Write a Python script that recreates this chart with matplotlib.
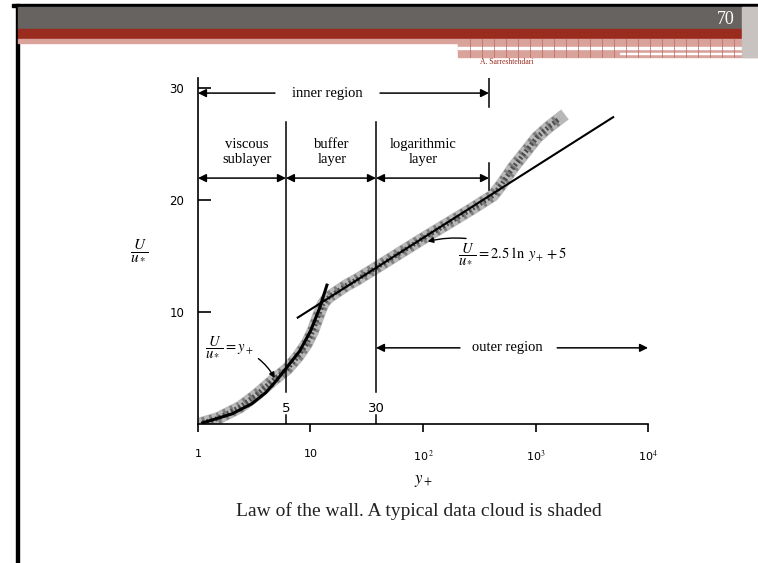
import numpy as np
import matplotlib
matplotlib.use("Agg")
import matplotlib.pyplot as plt
from matplotlib.patches import Rectangle

plt.rcParams['font.family'] = ['Liberation Serif', 'DejaVu Serif']
plt.rcParams['mathtext.fontset'] = 'stix'

# data
cloud_yp = [1.1, 1.5, 2.36, 3.3, 4.64, 6.18, 7.7, 9.29, 10.5, 11.4, 12.2, 12.9, 13.8, 14.9, 16.5,
            18.3, 21, 25.9, 30, 39.0, 94, 261, 418, 500, 632, 800, 1030, 1300, 1650]
cloud_up = [0.1, 0.5, 1.5, 2.6, 3.9, 4.9, 6.0, 7.2, 8.3, 9.3, 10.1, 10.7, 11.1, 11.4, 11.7,
            12.0, 12.4, 12.9, 13.3, 14.0, 16.4, 19.1, 20.4, 21.4, 22.9, 24.2, 25.6, 26.5, 27.3]

visc_yp = [1.1, 2.0, 3.0, 4.0, 5.0, 6.2, 8.0, 10.0, 12.0, 14.0]
visc_up = [0.1, 0.9, 1.8, 2.8, 3.9, 5.1, 6.5, 8.3, 10.3, 12.4]

log_yp = [7.7, 4900]
log_up = [9.5, 27.4]

edges = [1, 6.05, 38.2, 386]          # viscous | buffer | log | end of inner
edge_labels = ['5', '30']
regions = ['viscous\nsublayer', 'buffer\nlayer', 'logarithmic\nlayer']
region_x = [2.73, 15.5, 100]

xticks = [1, 10, 100, 1000, 10000]
xticklabels = ['1', '10', '10$^{\\,2}$', '10$^3$', '10$^4$']
yticks = [10, 20, 30]

fig = plt.figure(figsize=(7.58, 5.63), dpi=100)

# slide decoration
bg = fig.add_axes([0, 0, 1, 1])
bg.set_xlim(0, 758)
bg.set_ylim(563, 0)
bg.axis('off')
bg.add_patch(Rectangle((12, 4), 746, 3, color='black'))
bg.add_patch(Rectangle((16, 4), 2.5, 559, color='black'))
bg.add_patch(Rectangle((18, 7), 740, 22, color='#676361'))
bg.add_patch(Rectangle((18, 29), 740, 9.5, color='#9a2b1f'))
bg.add_patch(Rectangle((18, 38.5), 440, 4.5, color='#d9a29b'))
bg.add_patch(Rectangle((458, 38.5), 300, 18.5, color='#d9a29b'))
bg.add_patch(Rectangle((458, 46.5), 285, 2.5, color='white'))
bg.add_patch(Rectangle((620, 52.5), 125, 1.5, color='white'))
for xv in np.arange(470, 745, 12):
    bg.plot([xv, xv], [38.5, 57], color='#b9665c', lw=0.5)
bg.add_patch(Rectangle((742, 7), 16, 50, color='#c8c3c0'))
bg.text(735, 20, '70', color='white', fontsize=13, ha='right', va='center')
bg.text(507, 62, 'A. Sarreshtehdari', color='#9a2b1f', fontsize=5.5, ha='center', va='center')
bg.text(419, 511, 'Law of the wall. A typical data cloud is shaded', fontsize=14, ha='center', va='center',
        color='#222222')

ax = fig.add_axes([0.2612, 0.2469, 0.5937, 0.6146])
ax.set_xscale('log')
ax.set_xlim(1, 10000)
ax.set_ylim(0, 30.9)
for s in ['top', 'right']:
    ax.spines[s].set_visible(False)
ax.spines['left'].set_linewidth(1.2)
ax.spines['bottom'].set_linewidth(1.2)

# data cloud (stippled grey band)
ax.plot(cloud_yp, cloud_up, color='#b8b8b8', lw=9, solid_joinstyle='round', zorder=2)
ax.plot(cloud_yp, cloud_up, color='#7e7e7e', lw=8, ls=(0, (0.25, 0.45)), zorder=2)
ax.plot(cloud_yp, cloud_up, color='#4a4a4a', lw=3.5, ls=(0, (0.4, 0.5)), zorder=2)
# laws
ax.plot(visc_yp, visc_up, color='black', lw=2.2, zorder=3)
ax.plot(log_yp, log_up, color='black', lw=1.5, zorder=3)

ax.set_xticks(xticks)
ax.set_xticklabels(xticklabels, family='DejaVu Sans', fontsize=8)
ax.xaxis.set_minor_locator(matplotlib.ticker.NullLocator())
ax.tick_params(axis='x', direction='out', length=6, width=1.2, pad=12)
ax.set_yticks(yticks)
ax.set_yticklabels([str(v) for v in yticks], family='DejaVu Sans', fontsize=8.5)
ax.tick_params(axis='y', direction='in', length=9, width=1.2, pad=10)

# region boundaries
for e in edges[1:3]:
    ax.plot([e, e], [2.86, 27.0], color='black', lw=1.1)
    ax.plot([e, e], [0, 0.8], color='black', lw=1.1)
for e, lab in zip(edges[1:3], edge_labels):
    ax.text(e, 1.4, lab, ha='center', va='center', fontsize=9.5, family='DejaVu Sans')
ax.plot([edges[3], edges[3]], [28.3, 30.9], color='black', lw=1.1)
ax.plot([edges[3], edges[3]], [20.9, 23.3], color='black', lw=1.1)

arr = dict(arrowstyle='-|>', color='black', lw=1.1, mutation_scale=12, shrinkA=0, shrinkB=0)
arr2 = dict(arrowstyle='<|-|>', color='black', lw=1.1, mutation_scale=12, shrinkA=0, shrinkB=0)

# inner region
ax.annotate('', xy=(1, 29.55), xytext=(4.83, 29.55), arrowprops=arr)
ax.annotate('', xy=(edges[3], 29.55), xytext=(41.5, 29.55), arrowprops=arr)
ax.text(14.0, 29.55, 'inner region', ha='center', va='center', fontsize=10.5)

for i in range(3):
    ax.annotate('', xy=(edges[i], 21.96), xytext=(edges[i + 1], 21.96), arrowprops=arr2)
    ax.text(region_x[i], 24.3, regions[i], ha='center', va='center', fontsize=10.5, linespacing=1.2)

# outer region
ax.annotate('', xy=(edges[2], 6.8), xytext=(213, 6.8), arrowprops=arr)
ax.annotate('', xy=(10000, 6.8), xytext=(1560, 6.8), arrowprops=arr)
ax.text(558, 6.8, 'outer region', ha='center', va='center', fontsize=10.5)

# law labels
ax.annotate(r'$\dfrac{U}{u_*} = 2.5\ \ln\ y_{\!+} + 5$', xy=(110, 16.3), xytext=(205, 15.2),
            fontsize=10.5, ha='left', va='center',
            arrowprops=dict(arrowstyle='-|>', color='black', lw=1.0, mutation_scale=8,
                            connectionstyle='arc3,rad=0.2', shrinkA=2, shrinkB=0))
ax.annotate(r'$\dfrac{U}{u_*} = y_+$', xy=(4.8, 4.1), xytext=(1.15, 6.9),
            fontsize=10.5, ha='left', va='center',
            arrowprops=dict(arrowstyle='-|>', color='black', lw=1.0, mutation_scale=8,
                            connectionstyle='arc3,rad=-0.25', shrinkA=2, shrinkB=0))

ax.text(-0.13, 0.5, r'$\dfrac{U}{u_*}$', transform=ax.transAxes, fontsize=11, ha='center', va='center')
ax.text(0.5, -0.165, r'$y_+$', transform=ax.transAxes, fontsize=12, ha='center', va='center')

fig.savefig('out.png', dpi=100)
